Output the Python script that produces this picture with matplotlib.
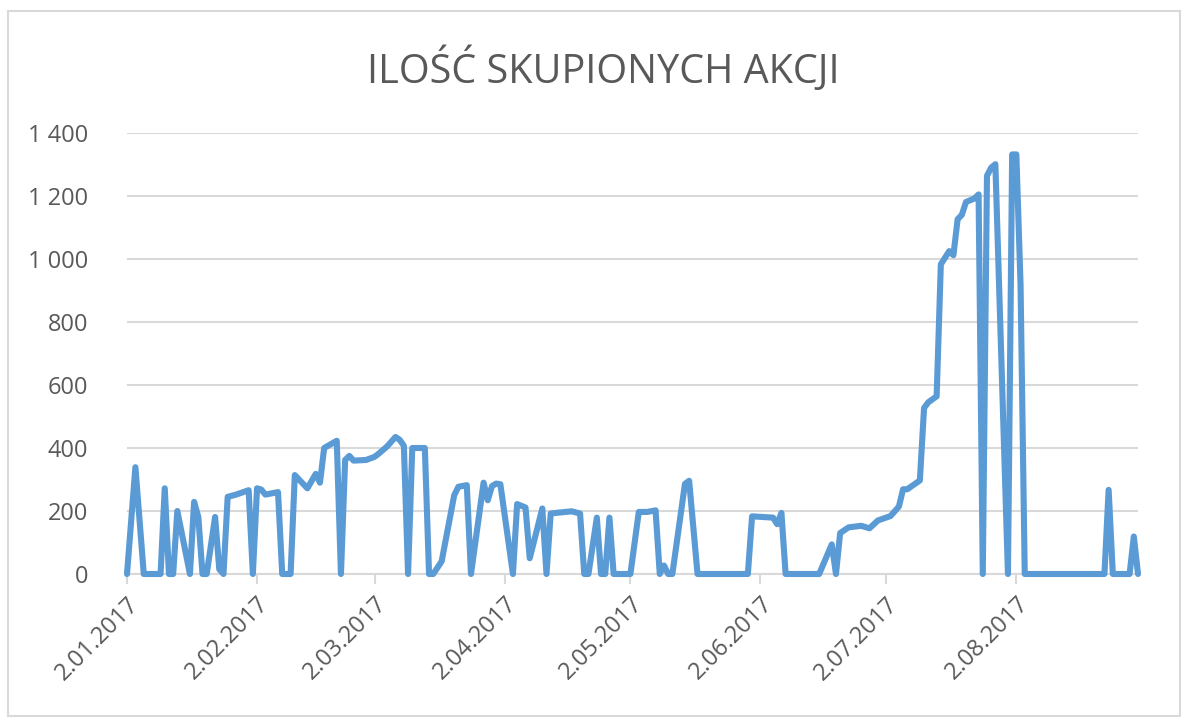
import matplotlib
matplotlib.use('Agg')
import matplotlib.pyplot as plt
import pandas as pd
from matplotlib.patches import Rectangle

# dates and number of shares bought back
dates = [
    '2017-01-02', '2017-01-04', '2017-01-06', '2017-01-10', '2017-01-11', '2017-01-12',
    '2017-01-13', '2017-01-14', '2017-01-17', '2017-01-18', '2017-01-19', '2017-01-20',
    '2017-01-21', '2017-01-23', '2017-01-24', '2017-01-25', '2017-01-26', '2017-01-28',
    '2017-01-31', '2017-02-01', '2017-02-02', '2017-02-03', '2017-02-04', '2017-02-07',
    '2017-02-08', '2017-02-10', '2017-02-11', '2017-02-14', '2017-02-16', '2017-02-17',
    '2017-02-18', '2017-02-21', '2017-02-22', '2017-02-23', '2017-02-24', '2017-02-25',
    '2017-02-28', '2017-03-02', '2017-03-03', '2017-03-05', '2017-03-07', '2017-03-08',
    '2017-03-09', '2017-03-10', '2017-03-11', '2017-03-14', '2017-03-15', '2017-03-16',
    '2017-03-18', '2017-03-21', '2017-03-22', '2017-03-24', '2017-03-25', '2017-03-28',
    '2017-03-29', '2017-03-30', '2017-03-31', '2017-04-01', '2017-04-04', '2017-04-05',
    '2017-04-07', '2017-04-08', '2017-04-11', '2017-04-12', '2017-04-13', '2017-04-15',
    '2017-04-18', '2017-04-20', '2017-04-21', '2017-04-22', '2017-04-24', '2017-04-25',
    '2017-04-26', '2017-04-27', '2017-04-28', '2017-05-02', '2017-05-04', '2017-05-06',
    '2017-05-08', '2017-05-09', '2017-05-10', '2017-05-11', '2017-05-12', '2017-05-15',
    '2017-05-16', '2017-05-18', '2017-05-30', '2017-05-31', '2017-06-05', '2017-06-06',
    '2017-06-07', '2017-06-08', '2017-06-16', '2017-06-19', '2017-06-20', '2017-06-21',
    '2017-06-23', '2017-06-26', '2017-06-28', '2017-06-30', '2017-07-03', '2017-07-05',
    '2017-07-06', '2017-07-07', '2017-07-10', '2017-07-11', '2017-07-12', '2017-07-14',
    '2017-07-15', '2017-07-17', '2017-07-18', '2017-07-19', '2017-07-20', '2017-07-21',
    '2017-07-23', '2017-07-24', '2017-07-25', '2017-07-26', '2017-07-27', '2017-07-28',
    '2017-07-31', '2017-08-01', '2017-08-02', '2017-08-03', '2017-08-04', '2017-08-23',
    '2017-08-24', '2017-08-25', '2017-08-29', '2017-08-30', '2017-08-31',
]
shares = [
    0, 339, 0, 0, 272, 0,
    0, 200, 0, 229, 181, 0,
    0, 181, 15, 0, 245, 252,
    266, 0, 272, 268, 252, 260,
    0, 0, 314, 272, 318, 290,
    400, 423, 0, 362, 375, 360,
    362, 372, 382, 405, 435, 426,
    407, 0, 400, 400, 0, 0,
    40, 250, 277, 282, 0, 290,
    234, 279, 287, 285, 0, 222,
    211, 50, 208, 0, 192, 195,
    199, 192, 0, 0, 179, 0,
    0, 179, 0, 0, 197, 197,
    202, 0, 27, 0, 0, 286,
    296, 0, 0, 183, 179, 158,
    194, 0, 0, 94, 0, 130,
    148, 153, 145, 170, 184, 214,
    269, 269, 297, 527, 545, 564,
    983, 1025, 1012, 1126, 1140, 1181,
    1192, 1205, 0, 1264, 1290, 1301,
    0, 1332, 1332, 920, 0, 0,
    267, 0, 0, 119, 0,
]

tick_dates = ['2017-01-02', '2017-02-02', '2017-03-02', '2017-04-02',
              '2017-05-02', '2017-06-02', '2017-07-02', '2017-08-02']
y_ticks = [0, 200, 400, 600, 800, 1000, 1200, 1400]

x = pd.to_datetime(dates)
xt = pd.to_datetime(tick_dates)

plt.rcParams['font.family'] = ['Open Sans', 'DejaVu Sans']
grey = '#595959'

fig = plt.figure(figsize=(11.88, 7.2), dpi=100)
fig.patches.append(Rectangle((8 / 1188, 4 / 720), 1172 / 1188, 705 / 720,
                             transform=fig.transFigure, fill=False,
                             edgecolor='#d9d9d9', linewidth=1.5))

ax = fig.add_axes([127 / 1188, 1 - 574 / 720, (1138 - 127) / 1188, (574 - 133) / 720])
ax.plot(x, shares, color='#5b9bd5', linewidth=4.4, solid_joinstyle='round',
        solid_capstyle='round', zorder=3, clip_on=False)

ax.set_xlim(pd.Timestamp('2017-01-02'), pd.Timestamp('2017-08-31'))
ax.set_ylim(0, 1400)
ax.set_yticks(y_ticks)
ax.set_yticklabels([f'{v:,}'.replace(',', ' ') for v in y_ticks])
ax.set_xticks(xt)
ax.set_xticklabels([d.strftime('%-d.%m.%Y') for d in xt], rotation=45,
                   ha='right', rotation_mode='anchor')

ax.grid(axis='y', color='#d9d9d9', linewidth=1.5)
ax.set_axisbelow(True)
for s in ['top', 'right', 'left']:
    ax.spines[s].set_visible(False)
ax.spines['bottom'].set_color('#d9d9d9')
ax.spines['bottom'].set_linewidth(1.5)
ax.tick_params(axis='y', length=0, pad=28, labelsize=17, labelcolor=grey)
ax.tick_params(axis='x', direction='out', length=7, width=1.5, color='#d9d9d9',
               pad=6, labelsize=17, labelcolor=grey)

fig.text(603 / 1188, 1 - 70 / 720, 'ILOŚĆ SKUPIONYCH AKCJI', ha='center', va='center',
         fontsize=28.5, color=grey)

plt.savefig('out.png', dpi=100)
plt.close()
